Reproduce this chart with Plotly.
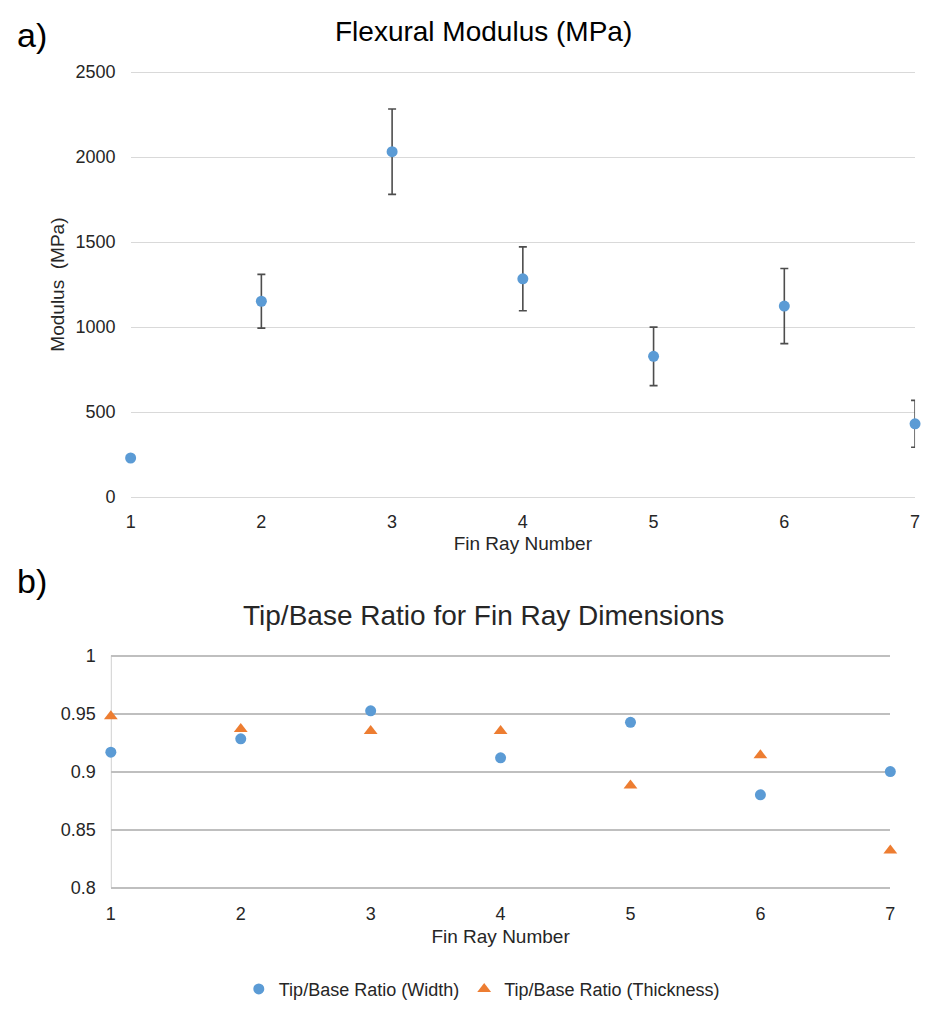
import plotly.graph_objects as go

# ---- data ----
fin_ray = [1, 2, 3, 4, 5, 6, 7]
modulus = [230, 1152, 2032, 1284, 828, 1124, 431]
modulus_err = [10, 158, 251, 188, 172, 221, 138]

ratio_width = [0.9167, 0.9283, 0.9524, 0.9119, 0.9425, 0.880, 0.900]
ratio_thickness = [0.9476, 0.9368, 0.9349, 0.9349, 0.888, 0.914, 0.832]

top_yticks = [0, 500, 1000, 1500, 2000, 2500]
bot_yticks = [0.8, 0.85, 0.9, 0.95, 1.0]
bot_yticktext = ["0.8", "0.85", "0.9", "0.95", "1"]

BLUE = "#5B9BD5"
ORANGE = "#ED7D31"
FONT = "Liberation Sans, Arial, sans-serif"
TXT = "#262626"

W, H = 925, 1010

def px_x(p):
    return p / W

def px_y(p):
    return 1 - p / H

def padded(v0, v1, p0, p1, pad_px=3):
    """axis range padded by a few pixels (so edge gridlines are drawn),
    with the matching pixel domain (p0 = pixel of v0, p1 = pixel of v1)."""
    per_px = (v1 - v0) / abs(p1 - p0)
    d = pad_px * per_px
    sign = 1 if p1 > p0 else -1
    return [v0 - d, v1 + d], (p0 - sign * pad_px, p1 + sign * pad_px)

top_range, (top_p0, top_p1) = padded(0, 2500, 497, 66)
bot_range, (bot_p0, bot_p1) = padded(0.8, 1.0, 893, 657.7)

fig = go.Figure()

fig.add_trace(go.Scatter(
    x=fin_ray, y=modulus, mode="markers",
    marker=dict(color=BLUE, size=11, symbol="circle"),
    error_y=dict(type="data", array=modulus_err, visible=True,
                 color="#4D4D4D", thickness=1.6, width=4),
    xaxis="x", yaxis="y", showlegend=False, cliponaxis=False,
))

fig.add_trace(go.Scatter(
    x=fin_ray, y=ratio_width, mode="markers", name="Tip/Base Ratio (Width)",
    marker=dict(color=BLUE, size=11, symbol="circle"),
    xaxis="x2", yaxis="y2", cliponaxis=False,
))
fig.add_trace(go.Scatter(
    x=fin_ray, y=ratio_thickness, mode="markers", name="Tip/Base Ratio (Thickness)",
    marker=dict(color=ORANGE, size=12, symbol="triangle-up"),
    xaxis="x2", yaxis="y2", cliponaxis=False,
))

tickfont = dict(family=FONT, size=18, color=TXT)
titlefont = dict(family=FONT, size=19, color=TXT)

fig.update_layout(
    width=W, height=H,
    margin=dict(l=0, r=0, t=0, b=0),
    paper_bgcolor="white", plot_bgcolor="white",
    font=dict(family=FONT, color=TXT),
    xaxis=dict(
        domain=[px_x(127), px_x(920)], anchor="y",
        range=[1, 7], tickvals=fin_ray, showgrid=False, zeroline=False,
        showline=False, ticks="", tickfont=tickfont, ticklabelstandoff=9,
        title=dict(text="Fin Ray Number", font=titlefont, standoff=5),
    ),
    yaxis=dict(
        domain=[px_y(top_p0), px_y(top_p1)], anchor="x",
        range=top_range, tickvals=top_yticks, showgrid=True,
        gridcolor="#D9D9D9", gridwidth=1, zeroline=False, showline=False,
        ticks="", tickfont=tickfont, ticklabelstandoff=14,
        title=dict(text="Modulus  (MPa)", font=titlefont, standoff=5),
    ),
    xaxis2=dict(
        domain=[px_x(107), px_x(895)], anchor="y2",
        range=[1, 7], tickvals=fin_ray, showgrid=False, zeroline=False,
        showline=False, ticks="", tickfont=tickfont, ticklabelstandoff=10,
        title=dict(text="Fin Ray Number", font=titlefont, standoff=7),
    ),
    yaxis2=dict(
        domain=[px_y(bot_p0), px_y(bot_p1)], anchor="x2",
        range=bot_range, tickvals=bot_yticks, ticktext=bot_yticktext,
        showgrid=True, gridcolor="#BFBFBF", gridwidth=1.5, zeroline=False,
        showline=False, ticks="", tickfont=tickfont, ticklabelstandoff=14,
    ),
    legend=dict(
        orientation="h", x=px_x(482), y=px_y(996), xanchor="center", yanchor="middle",
        font=dict(family=FONT, size=18, color=TXT), itemwidth=30,
        bgcolor="rgba(0,0,0,0)",
    ),
    shapes=[
        # left axis line of the lower chart (at x = 1)
        dict(type="line", xref="x2", yref="y2 domain", x0=1, x1=1,
             y0=(bot_p0 - 893) / (bot_p0 - bot_p1), y1=(bot_p0 - 657.7) / (bot_p0 - bot_p1),
             line=dict(color="#BFBFBF", width=1.5), layer="below"),
    ],
    annotations=[
        dict(text="a)", x=px_x(10), y=px_y(28), xref="paper", yref="paper",
             xanchor="left", yanchor="middle", showarrow=False,
             font=dict(family=FONT, size=34, color="#000000")),
        dict(text="b)", x=px_x(10), y=px_y(582), xref="paper", yref="paper",
             xanchor="left", yanchor="middle", showarrow=False,
             font=dict(family=FONT, size=34, color="#000000")),
        dict(text="Flexural Modulus (MPa)", x=px_x(484), y=px_y(25),
             xref="paper", yref="paper", xanchor="center", yanchor="middle",
             showarrow=False, font=dict(family=FONT, size=28, color="#000000")),
        dict(text="Tip/Base Ratio for Fin Ray Dimensions", x=px_x(484), y=px_y(617),
             xref="paper", yref="paper", xanchor="center", yanchor="middle",
             showarrow=False, font=dict(family=FONT, size=28, color=TXT)),
    ],
)

fig.write_html(
    "out.html",
    config={"displayModeBar": False},
    post_script="document.body.style.margin='0';document.body.style.overflow='hidden';",
)
